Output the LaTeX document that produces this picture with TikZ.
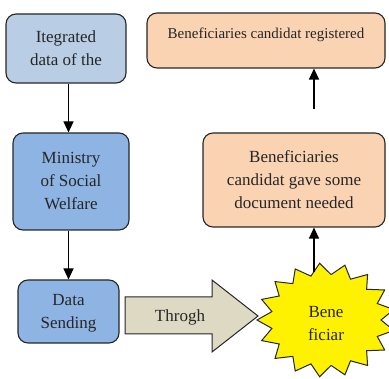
\documentclass[tikz,border=0pt]{standalone}
\usepackage{fontspec}
\setmainfont{Liberation Serif}
\newfontfamily\tnr{Liberation Serif}
\usetikzlibrary{arrows.meta}
\definecolor{lblue}{HTML}{B9CDE5}
\definecolor{mblue}{HTML}{8EB4E3}
\definecolor{peach}{HTML}{FAD3B3}
\definecolor{tanfill}{HTML}{DDD9C3}
\definecolor{edge}{HTML}{262626}
\begin{document}
\begin{tikzpicture}[x=1pt,y=-1pt,
 box/.style={draw=edge, line width=1.1pt, rounded corners=10pt, align=center,
   font=\tnr\fontsize{17}{23}\selectfont, inner sep=0pt, text=black!85},
 txt/.style={align=center, font=\tnr\fontsize{17}{23}\selectfont, inner sep=0pt, text=black!85},
 arr/.style={draw=black, line width=1.1pt, -{Triangle[length=11pt,width=10pt]}},
 shapeline/.style={draw=edge, line width=1pt},
]
\useasboundingbox (0,0) rectangle (389,379);

% left column
\node[box, fill=lblue, minimum width=120pt, minimum height=69pt] (integ) at (66,48.5) {Itegrated\\data of the};
\node[box, fill=mblue, minimum width=116pt, minimum height=97pt] (ministry) at (71,181.5) {Ministry\\of Social\\Welfare};
\node[box, fill=mblue, minimum width=101pt, minimum height=63pt] (send) at (68.5,311.5) {};
\begin{scope}
  \clip (0,280) rectangle (389,332);
  \node[txt] (sendtext) at (68.5,313.5) {Data\\Sending};
\end{scope}

\draw[arr] (integ.south -| send.center) -- (ministry.north -| send.center);
\draw[arr] (ministry.south -| send.center) -- (send.north);

% block arrow
\draw[shapeline, fill=tanfill] (125,297) -- (212,297) -- (212,280) -- (258,316)
  -- (212,352) -- (212,334) -- (125,334) -- cycle;
\node[txt] (throgh) at (180,317) {Throgh};

% starburst
\draw[shapeline, fill=yellow, shift={(326,320)}] (180:69pt and 57pt)
  \foreach \i in {0,...,16} { -- ({180+(\i+0.5)*360/17}:55pt and 45.6pt)
  -- ({180+(\i+1)*360/17}:69pt and 57pt) } -- cycle;
\node[txt] (bene) at (326,323.5) {Bene\\ficiar};

% right column
\node[box, fill=peach, minimum width=182pt, minimum height=94pt] (docs) at (294,180) {Beneficiaries\\candidat gave some\\document needed};
\node[box, fill=peach, minimum width=238pt, minimum height=55pt,
  font=\tnr\fontsize{15}{18}\selectfont, text height=10pt, text depth=14pt] (reg) at (266,40.5) {Beneficiaries candidat registered};

\coordinate (burst) at (314,272);
\coordinate (gapstart) at (314,109);
\draw[arr] (burst) -- (docs.south -| burst);
\draw[arr] (gapstart) -- (reg.south -| gapstart);
\end{tikzpicture}
\end{document}
